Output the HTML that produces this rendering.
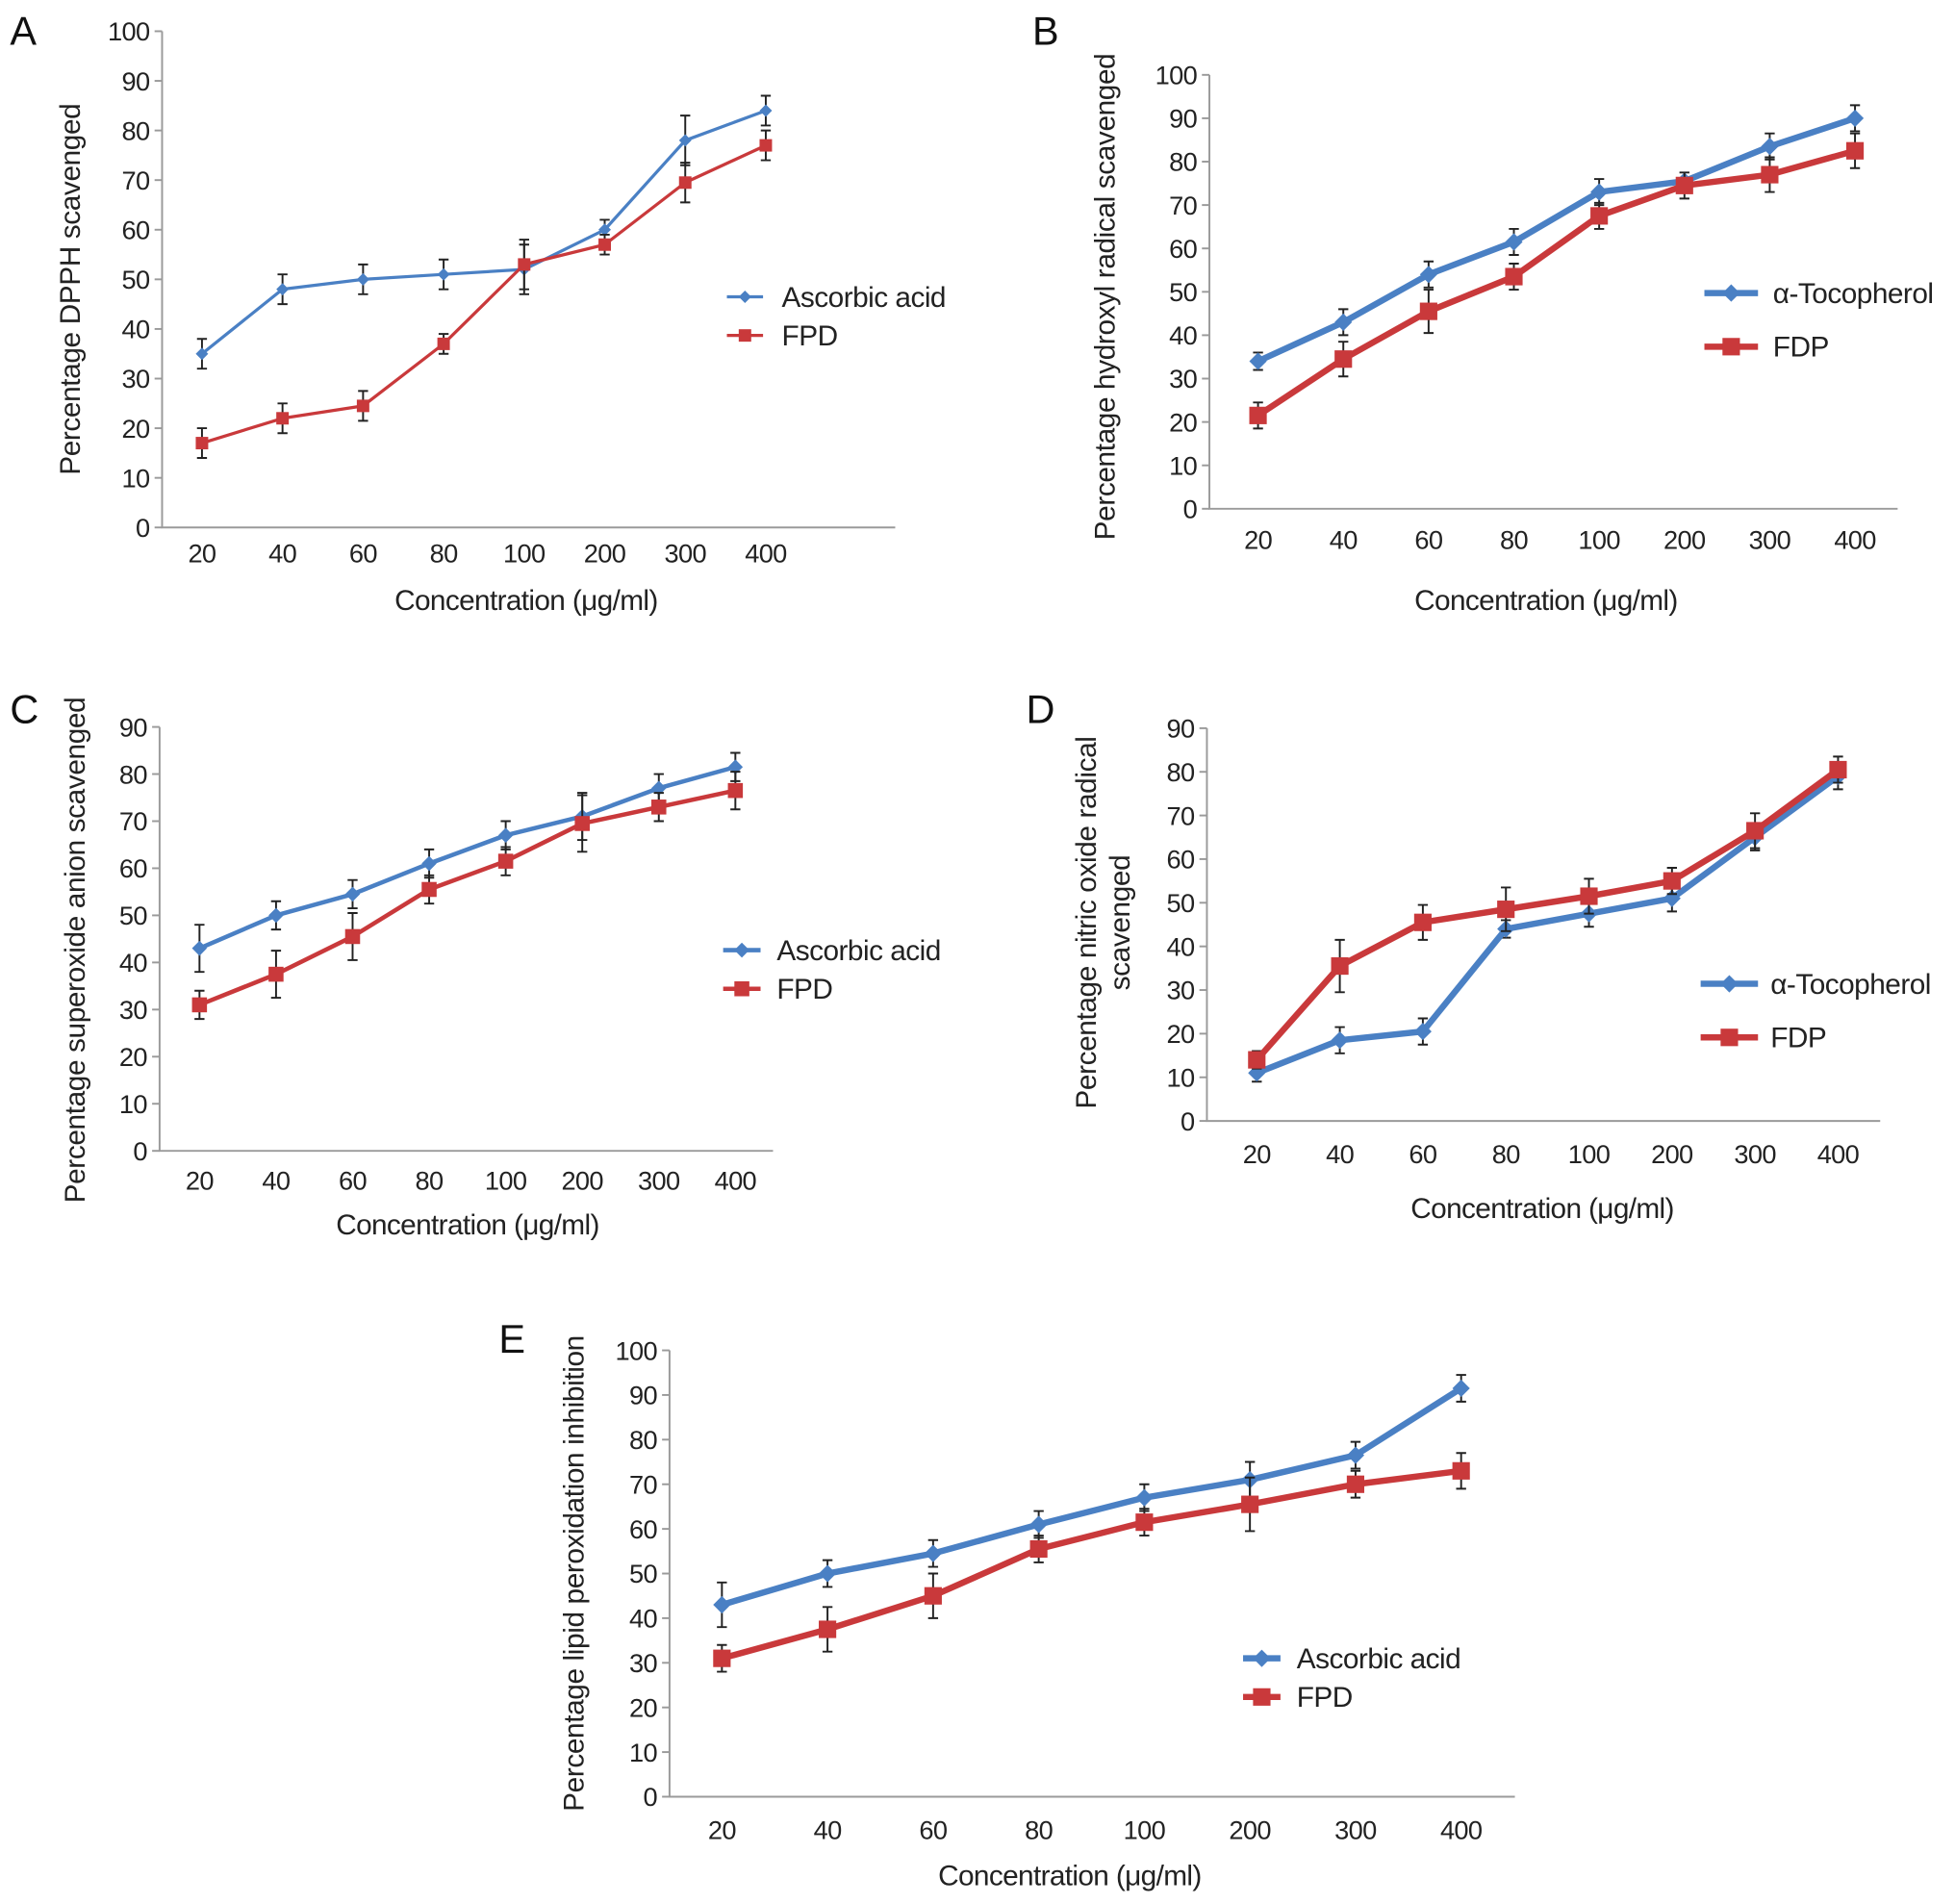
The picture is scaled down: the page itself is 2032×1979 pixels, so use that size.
<!DOCTYPE html>
<html><head><meta charset="utf-8"><style>
html,body{margin:0;padding:0;background:#fff;}
svg{display:block;font-family:"Liberation Sans",sans-serif;}
</style></head><body>
<svg id="fig" width="2032" height="1979" viewBox="0 0 1568 1527" xmlns="http://www.w3.org/2000/svg">
<rect width="1568" height="1527" fill="#fff"/>
</svg>
<script>
const categories = ["20","40","60","80","100","200","300","400"];
const aBlue = [35,48,50,51,52,60,78,84];
const aBlueErr = [3,3,3,3,5,2,5,3];
const aRed = [17,22,24.5,37,53,57,69.5,77];
const aRedErr = [3,3,3,2,5,2,4,3];
const bBlue = [34,43,54,61.5,73,75.5,83.5,90];
const bBlueErr = [2,3,3,3,3,0,3,3];
const bRed = [21.5,34.5,45.5,53.5,67.5,74.5,77,82.5];
const bRedErr = [3,4,5,3,3,3,4,4];
const cBlue = [43,50,54.5,61,67,71,77,81.5];
const cBlueErr = [5,3,3,3,3,5,3,3];
const cRed = [31,37.5,45.5,55.5,61.5,69.5,73,76.5];
const cRedErr = [3,5,5,3,3,6,3,4];
const dBlue = [11,18.5,20.5,44,47.5,51,65,79];
const dBlueErr = [2,3,3,2,3,3,3,3];
const dRed = [14,35.5,45.5,48.5,51.5,55,66.5,80.5];
const dRedErr = [2,6,4,5,4,3,4,3];
const eBlue = [43,50,54.5,61,67,71,76.5,91.5];
const eBlueErr = [5,3,3,3,3,4,3,3];
const eRed = [31,37.5,45,55.5,61.5,65.5,70,73];
const eRedErr = [3,5,5,3,3,6,3,4];
const yTicksA = [0,10,20,30,40,50,60,70,80,90,100];
const yTicks90 = [0,10,20,30,40,50,60,70,80,90];

const NS="http://www.w3.org/2000/svg";
const svg=document.getElementById('fig');
const BLUE="#4a80c4", RED="#c9393b";
function mk(tag,attrs,parent,text){const e=document.createElementNS(NS,tag);for(const k in attrs)e.setAttribute(k,attrs[k]);if(text!==undefined)e.textContent=text;(parent||svg).appendChild(e);return e;}

function panel(p){
  const g=mk('g',{});
  
  
  const yS=v=>p.y0+(p.y1-p.y0)*(v/p.ymax);
  const xS=i=>p.xs0+i*p.dx;
  const t=mk('text',{x:p.lx,y:p.ly,'font-size':32,fill:'#111'},g,p.id);
  
  
  const ax=mk('path',{d:`M${p.ax},${p.y1}V${p.y0}H${p.axEnd}`,stroke:'#9a9a9a','stroke-width':1.5,fill:'none'},g);
  
  
  p.yticks.forEach(v=>{
    const tk=mk('line',{x1:p.ax-6,x2:p.ax,y1:yS(v),y2:yS(v),stroke:'#9a9a9a','stroke-width':1.5},g);
    
    
    const tl=mk('text',{x:p.ax-10,y:yS(v)+7.5,'text-anchor':'end','font-size':21,'letter-spacing':-0.5,fill:'#222'},g,String(v));
    
    
  });
  categories.forEach((c,i)=>{
    const tl=mk('text',{x:xS(i),y:p.tly,'text-anchor':'middle','font-size':21,'letter-spacing':-0.5,fill:'#222'},g,c);
    
    
  });
  const xl=mk('text',{x:p.xlx,y:p.xly,'text-anchor':'middle','font-size':23,'letter-spacing':-0.5,fill:'#222'},g,'Concentration (μg/ml)');
  
  
  p.ylab.forEach((s,k)=>{
    const yl=mk('text',{x:0,y:0,'text-anchor':'middle','font-size':23,'letter-spacing':-0.3,fill:'#222',transform:`translate(${p.ylx+k*27},${p.yly}) rotate(-90)`},g,s);
    
    
  });
  p.series.forEach((s,si)=>{
    const sg=mk('g',{},g);
    
    
    s.vals.forEach((v,i)=>{
      const e=s.err[i]; if(!e) return;
      const x=xS(i), ya=yS(v+e), yb=yS(v-e);
      const eb=mk('path',{d:`M${x},${ya}V${yb}M${x-4},${ya}H${x+4}M${x-4},${yb}H${x+4}`,stroke:'#222','stroke-width':1.5,fill:'none'},sg);
      
      
    });
    const d=s.vals.map((v,i)=>(i?'L':'M')+xS(i)+','+yS(v)).join('');
    const ln=mk('path',{d,stroke:s.color,'stroke-width':p.lw,fill:'none','stroke-linejoin':'round'},sg);
    
    
    s.vals.forEach((v,i)=>{
      const m=marker(sg,s.shape,xS(i),yS(v),p.ms,s.color);
      
      
    });
    const ly=p.legY[si];
    const lg=mk('g',{},g);
    
    
    mk('line',{x1:p.legX0,x2:p.legX1,y1:ly,y2:ly,stroke:s.color,'stroke-width':p.lw},lg);
    marker(lg,s.shape,(p.legX0+p.legX1)/2,ly,p.ms,s.color);
    mk('text',{x:p.legTx,y:ly+8,'font-size':23,'letter-spacing':-0.4,fill:'#222'},lg,s.name);
  });
}
function marker(parent,shape,x,y,s,c){
  if(shape==='d') return mk('path',{d:`M${x},${y-s}L${x+s},${y}L${x},${y+s}L${x-s},${y}Z`,fill:c},parent);
  return mk('rect',{x:x-s,y:y-s,width:2*s,height:2*s,fill:c},parent);
}

panel({id:'A',lx:8,ly:36,ax:130,axEnd:718,y0:423,y1:25,ymax:100,yticks:yTicksA,xs0:162,dx:64.6,tly:451,xlx:422,xly:489,ylab:['Percentage DPPH scavenged'],ylx:64,yly:232,lw:2.5,ms:5,legX0:583,legX1:612,legTx:627,legY:[238,269],
  series:[{name:'Ascorbic acid',vals:aBlue,err:aBlueErr,color:BLUE,shape:'d'},{name:'FPD',vals:aRed,err:aRedErr,color:RED,shape:'s'}]});
panel({id:'B',lx:828,ly:36,ax:970,axEnd:1522,y0:408,y1:60,ymax:100,yticks:yTicksA,xs0:1009,dx:68.4,tly:440,xlx:1240,xly:489,ylab:['Percentage hydroxyl radical scavenged'],ylx:894,yly:238,lw:5,ms:7,legX0:1367,legX1:1410,legTx:1422,legY:[235,278],
  series:[{name:'α-Tocopherol',vals:bBlue,err:bBlueErr,color:BLUE,shape:'d'},{name:'FDP',vals:bRed,err:bRedErr,color:RED,shape:'s'}]});
panel({id:'C',lx:8,ly:580,ax:128,axEnd:620,y0:923,y1:583,ymax:90,yticks:yTicks90,xs0:160,dx:61.4,tly:954,xlx:375,xly:990,ylab:['Percentage superoxide anion scavenged'],ylx:68,yly:762,lw:3.5,ms:6,legX0:580,legX1:610,legTx:623,legY:[762,793],
  series:[{name:'Ascorbic acid',vals:cBlue,err:cBlueErr,color:BLUE,shape:'d'},{name:'FPD',vals:cRed,err:cRedErr,color:RED,shape:'s'}]});
panel({id:'D',lx:823,ly:580,ax:968,axEnd:1508,y0:899,y1:584,ymax:90,yticks:yTicks90,xs0:1008,dx:66.6,tly:933,xlx:1237,xly:977,ylab:['Percentage nitric oxide radical','scavenged'],ylx:879,yly:740,lw:5,ms:7,legX0:1364,legX1:1410,legTx:1420,legY:[789,832],
  series:[{name:'α-Tocopherol',vals:dBlue,err:dBlueErr,color:BLUE,shape:'d'},{name:'FDP',vals:dRed,err:dRedErr,color:RED,shape:'s'}]});
panel({id:'E',lx:400,ly:1085,ax:537,axEnd:1215,y0:1441,y1:1083,ymax:100,yticks:yTicksA,xs0:579,dx:84.7,tly:1475,xlx:858,xly:1512,ylab:['Percentage lipid peroxidation inhibition'],ylx:468,yly:1262,lw:5,ms:7,legX0:997,legX1:1027,legTx:1040,legY:[1330,1361],
  series:[{name:'Ascorbic acid',vals:eBlue,err:eBlueErr,color:BLUE,shape:'d'},{name:'FPD',vals:eRed,err:eRedErr,color:RED,shape:'s'}]});
</script>
</body></html>
